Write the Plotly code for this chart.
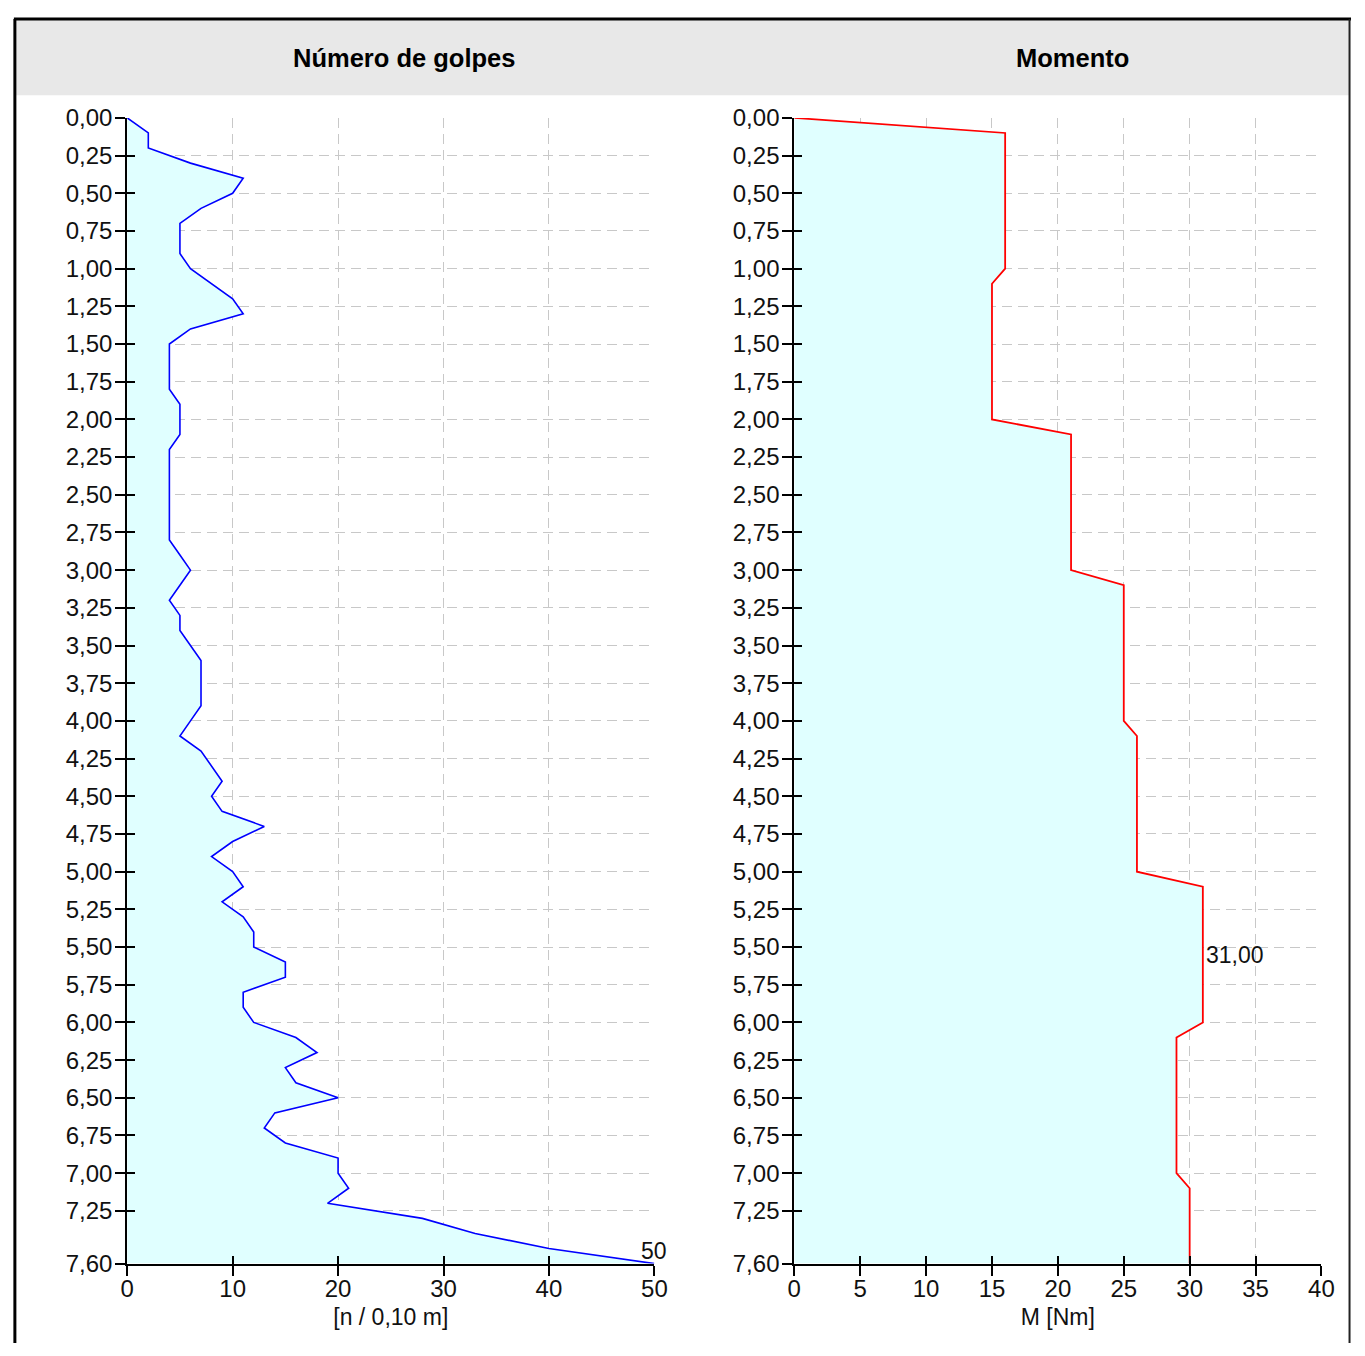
import plotly.graph_objects as go

# ---------------- data ----------------
profundidad = [0.0, 0.1, 0.2, 0.3, 0.4, 0.5, 0.6, 0.7, 0.8, 0.9,
               1.0, 1.1, 1.2, 1.3, 1.4, 1.5, 1.6, 1.7, 1.8, 1.9,
               2.0, 2.1, 2.2, 2.3, 2.4, 2.5, 2.6, 2.7, 2.8, 2.9,
               3.0, 3.1, 3.2, 3.3, 3.4, 3.5, 3.6, 3.7, 3.8, 3.9,
               4.0, 4.1, 4.2, 4.3, 4.4, 4.5, 4.6, 4.7, 4.8, 4.9,
               5.0, 5.1, 5.2, 5.3, 5.4, 5.5, 5.6, 5.7, 5.8, 5.9,
               6.0, 6.1, 6.2, 6.3, 6.4, 6.5, 6.6, 6.7, 6.8, 6.9,
               7.0, 7.1, 7.2, 7.3, 7.4, 7.5, 7.6]

golpes = [0, 2, 2, 6, 11, 10, 7, 5, 5, 5,
          6, 8, 10, 11, 6, 4, 4, 4, 4, 5,
          5, 5, 4, 4, 4, 4, 4, 4, 4, 5,
          6, 5, 4, 5, 5, 6, 7, 7, 7, 7,
          6, 5, 7, 8, 9, 8, 9, 13, 10, 8,
          10, 11, 9, 11, 12, 12, 15, 15, 11, 11,
          12, 16, 18, 15, 16, 20, 14, 13, 15, 20,
          20, 21, 19, 28, 33, 40, 50]

momento = [0, 16, 16, 16, 16, 16, 16, 16, 16, 16,
           16, 15, 15, 15, 15, 15, 15, 15, 15, 15,
           15, 21, 21, 21, 21, 21, 21, 21, 21, 21,
           21, 25, 25, 25, 25, 25, 25, 25, 25, 25,
           25, 26, 26, 26, 26, 26, 26, 26, 26, 26,
           26, 31, 31, 31, 31, 31, 31, 31, 31, 31,
           31, 29, 29, 29, 29, 29, 29, 29, 29, 29,
           29, 30, 30, 30, 30, 30, 30]

y_ticks = [0.0, 0.25, 0.5, 0.75, 1.0, 1.25, 1.5, 1.75, 2.0, 2.25, 2.5, 2.75,
           3.0, 3.25, 3.5, 3.75, 4.0, 4.25, 4.5, 4.75, 5.0, 5.25, 5.5, 5.75,
           6.0, 6.25, 6.5, 6.75, 7.0, 7.25, 7.6]
y_ticktext = ["0,00", "0,25", "0,50", "0,75", "1,00", "1,25", "1,50", "1,75",
              "2,00", "2,25", "2,50", "2,75", "3,00", "3,25", "3,50", "3,75",
              "4,00", "4,25", "4,50", "4,75", "5,00", "5,25", "5,50", "5,75",
              "6,00", "6,25", "6,50", "6,75", "7,00", "7,25", "7,60"]
x1_ticks = [0, 10, 20, 30, 40, 50]
x2_ticks = [0, 5, 10, 15, 20, 25, 30, 35, 40]

titulo1 = "Número de golpes"
titulo2 = "Momento"
eje_x1 = "[n / 0,10 m]"
eje_x2 = "M [Nm]"
etiqueta_max1 = "50"
etiqueta_max2 = "31,00"

# ---------------- geometry ----------------
W, H = 1365, 1356
FONT = "Liberation Sans, Arial, sans-serif"
GRID = "#c8c8c8"
FILL = "#e0ffff"


def px(x):
    return x / W


def py(y):
    return 1 - y / H


ydom = [py(1275), py(106)]
x1dom = [px(122), px(657)]
x2dom = [px(799), px(1334)]

fig = go.Figure()
fig.add_trace(go.Scatter(x=golpes, y=profundidad, mode="lines", fill="tozerox",
                         fillcolor=FILL, line=dict(color="#0000ff", width=1.6),
                         xaxis="x", yaxis="y", showlegend=False))
fig.add_trace(go.Scatter(x=momento, y=profundidad, mode="lines", fill="tozerox",
                         fillcolor=FILL, line=dict(color="#ff0000", width=1.8),
                         xaxis="x2", yaxis="y2", showlegend=False))

tickfont = dict(family=FONT, size=24, color="#111111")
common_y = dict(range=[7.6, 0], tickvals=y_ticks, ticktext=y_ticktext,
                showgrid=True, gridcolor=GRID, griddash="10px,6px", gridwidth=1,
                showline=True, linecolor="black", linewidth=2,
                ticks="outside", ticklen=10, tickcolor="black", tickwidth=2,
                ticklabelstandoff=-2,
                tickfont=tickfont, zeroline=False, domain=ydom)
common_x = dict(showgrid=True, gridcolor=GRID, griddash="10px,6px", gridwidth=1,
                showline=True, linecolor="black", linewidth=2,
                ticks="outside", ticklen=10, tickcolor="black", tickwidth=2,
                ticklabelstandoff=-7,
                tickfont=tickfont, zeroline=False)

fig.update_layout(
    width=W, height=H,
    margin=dict(l=0, r=0, t=0, b=0),
    paper_bgcolor="white", plot_bgcolor="white",
    font=dict(family=FONT, color="#111111"),
    xaxis=dict(common_x, domain=x1dom, range=[0, 50], tickvals=x1_ticks,
               anchor="y",
               title=dict(text=eje_x1, font=dict(family=FONT, size=23), standoff=7)),
    yaxis=dict(common_y, anchor="x"),
    xaxis2=dict(common_x, domain=x2dom, range=[0, 40], tickvals=x2_ticks,
                anchor="y2",
                title=dict(text=eje_x2, font=dict(family=FONT, size=23), standoff=7)),
    yaxis2=dict(common_y, anchor="x2"),
    # overlay axes for ticks that cross into the plot
    xaxis3=dict(overlaying="x", range=[0, 50], tickvals=x1_ticks, ticks="inside",
                ticklen=8, tickwidth=2, tickcolor="black", showticklabels=False,
                showgrid=False, zeroline=False, anchor="y", side="bottom"),
    yaxis3=dict(overlaying="y", range=[7.6, 0], tickvals=y_ticks, ticks="inside",
                ticklen=8, tickwidth=2, tickcolor="black", showticklabels=False,
                showgrid=False, zeroline=False, anchor="x", side="left"),
    xaxis4=dict(overlaying="x2", range=[0, 40], tickvals=x2_ticks, ticks="inside",
                ticklen=8, tickwidth=2, tickcolor="black", showticklabels=False,
                showgrid=False, zeroline=False, anchor="y2", side="bottom"),
    yaxis4=dict(overlaying="y2", range=[7.6, 0], tickvals=y_ticks, ticks="inside",
                ticklen=8, tickwidth=2, tickcolor="black", showticklabels=False,
                showgrid=False, zeroline=False, anchor="x2", side="left"),
)

# invisible traces so the overlay axes are drawn
fig.add_trace(go.Scatter(x=[None], y=[None], xaxis="x3", yaxis="y3", showlegend=False,
                         hoverinfo="skip"))
fig.add_trace(go.Scatter(x=[None], y=[None], xaxis="x4", yaxis="y4", showlegend=False,
                         hoverinfo="skip"))

# header band and frame
fig.add_shape(type="rect", xref="paper", yref="paper",
              x0=px(9), x1=px(1362), y0=py(83), y1=py(6),
              fillcolor="#e8e8e8", line=dict(width=0), layer="below")
fig.add_shape(type="line", xref="paper", yref="paper",
              x0=px(7), x1=px(1364), y0=py(5), y1=py(5),
              line=dict(color="black", width=3))
fig.add_shape(type="line", xref="paper", yref="paper",
              x0=px(8), x1=px(8), y0=0, y1=py(5),
              line=dict(color="black", width=3))
fig.add_shape(type="line", xref="paper", yref="paper",
              x0=px(1362.5), x1=px(1362.5), y0=0, y1=py(5),
              line=dict(color="#222222", width=2))

fig.add_annotation(text="<b>" + titulo1 + "</b>", xref="paper", yref="paper",
                   x=px(403), y=py(45), showarrow=False, xanchor="center",
                   yanchor="middle", font=dict(family=FONT, size=25.5, color="black"))
fig.add_annotation(text="<b>" + titulo2 + "</b>", xref="paper", yref="paper",
                   x=px(1081), y=py(45), showarrow=False, xanchor="center",
                   yanchor="middle", font=dict(family=FONT, size=25.5, color="black"))

# value labels
fig.add_annotation(text=etiqueta_max1, xref="x", yref="y", x=golpes[-1], y=profundidad[-1],
                   showarrow=False, xanchor="center", yanchor="bottom", yshift=-2,
                   font=dict(family=FONT, size=23, color="#111111"))
fig.add_annotation(text=etiqueta_max2, xref="x2", yref="y2", x=31, y=5.55,
                   showarrow=False, xanchor="left", yanchor="middle", xshift=1,
                   font=dict(family=FONT, size=23, color="#111111"))

fig.write_html("out.html",
               config={"displayModeBar": False},
               post_script="document.body.style.margin='0';"
                           "document.body.style.padding='0';"
                           "document.body.style.overflow='hidden';")
